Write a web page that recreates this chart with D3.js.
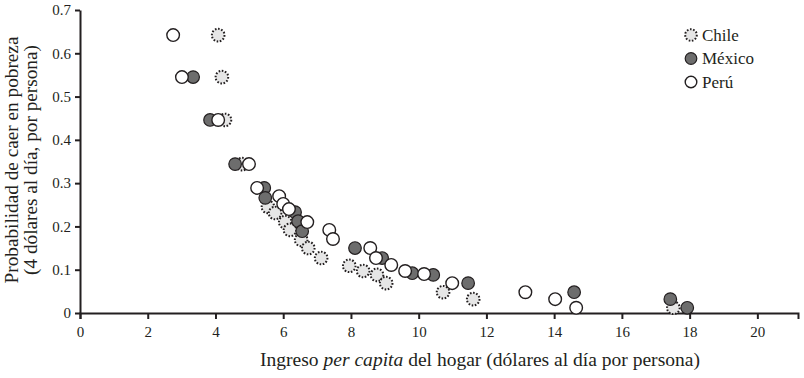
<!DOCTYPE html>
<html lang="es">
<head>
<meta charset="utf-8">
<script src="https://cdn.jsdelivr.net/npm/d3@7"></script>
<style>
  body { margin: 0; background: #fff; }
  svg text { fill: #231f20; }
  .axis path, .axis line { stroke: #231f20; stroke-width: 2; }
</style>
</head>
<body>
<div id="chart"></div>
<script>
// Data: [ingreso per capita, probabilidad]
const chile = [
  [4.08, 0.642], [4.19, 0.545], [4.28, 0.446], [4.79, 0.344], [5.55, 0.245],
  [5.76, 0.231], [6.06, 0.210], [6.20, 0.192], [6.53, 0.169], [6.74, 0.150],
  [7.12, 0.127], [7.95, 0.109], [8.36, 0.097], [8.77, 0.088], [9.04, 0.069],
  [10.72, 0.048], [11.61, 0.032], [17.52, 0.012]
];
const mexico = [
  [3.34, 0.545], [3.84, 0.446], [4.58, 0.344], [5.44, 0.289], [5.47, 0.266],
  [6.35, 0.233], [6.44, 0.212], [6.56, 0.189], [8.12, 0.150], [8.92, 0.127],
  [9.81, 0.092], [10.43, 0.088], [11.46, 0.069], [14.59, 0.048], [17.43, 0.032],
  [17.93, 0.012]
];
const peru = [
  [2.75, 0.642], [3.01, 0.545], [4.08, 0.446], [4.99, 0.344], [5.23, 0.289],
  [5.88, 0.270], [6.00, 0.252], [6.17, 0.240], [6.71, 0.210], [7.36, 0.192],
  [7.47, 0.171], [8.57, 0.150], [8.74, 0.127], [9.19, 0.111], [9.60, 0.097],
  [10.16, 0.090], [10.99, 0.069], [13.15, 0.048], [14.03, 0.032], [14.65, 0.012]
];
const seriesNames = ["Chile", "México", "Perú"];
const xTicks = [0, 2, 4, 6, 8, 10, 12, 14, 16, 18, 20];
const yTicks = [0, 0.1, 0.2, 0.3, 0.4, 0.5, 0.6, 0.7];

const width = 804;
const height = 378;
const margin = { top: 10, right: 6, bottom: 65, left: 80 };
const innerWidth = width - margin.left - margin.right;
const innerHeight = height - margin.top - margin.bottom;
const serif = "'Liberation Serif', 'Times New Roman', Tinos, 'DejaVu Serif', serif";

// Marker styles per country
const styles = {
  "Chile":  { fill: "#e6e6e6", stroke: "#231f20", dash: "1.6,1.6", sw: 2 },
  "México": { fill: "#6d6d6d", stroke: "#231f20", dash: null, sw: 1.2 },
  "Perú":   { fill: "#ffffff", stroke: "#231f20", dash: null, sw: 1.4 }
};

// Scale a text's font so that its length matches the one in the picture
const fitText = (sel, target, base) => {
  const len = sel.node().getComputedTextLength();
  if (len > 0) sel.style("font-size", `${(base * target / len).toFixed(2)}px`);
};

const svg = d3.select("#chart")
  .append("svg")
    .attr("width", width)
    .attr("height", height)
    .style("font-family", serif);

const innerChart = svg
  .append("g")
    .attr("transform", `translate(${margin.left}, ${margin.top})`);

// Scales
const xScale = d3.scaleLinear()
  .domain([0, 21.2])
  .range([0, innerWidth]);

const yScale = d3.scaleLinear()
  .domain([0, 0.7])
  .range([innerHeight, 0]);

// Axes
innerChart
  .append("g")
    .attr("class", "axis axis-x")
    .attr("transform", `translate(0, ${innerHeight})`)
    .call(d3.axisBottom(xScale).tickValues(xTicks).tickSize(6).tickSizeOuter(6).tickPadding(6))
    .call(g => g.attr("font-family", null).attr("font-size", null))
    .call(g => g.selectAll("text").attr("dy", "0.8em").style("font-family", serif).style("font-size", "15px"));

innerChart
  .append("g")
    .attr("class", "axis axis-y")
    .call(d3.axisLeft(yScale).tickValues(yTicks).tickSize(5).tickSizeOuter(0).tickPadding(4)
      .tickFormat(d => d === 0 ? "0" : d3.format(".1f")(d)))
    .call(g => g.attr("font-family", null).attr("font-size", null))
    .call(g => g.selectAll("text").style("font-family", serif).style("font-size", "15px"));

// Axis labels
const xLabel = svg
  .append("text")
    .attr("x", 480)
    .attr("y", 366)
    .attr("text-anchor", "middle")
    .style("font-family", serif)
    .style("font-size", "16px");
xLabel.append("tspan").text("Ingreso ");
xLabel.append("tspan").style("font-style", "italic").text("per capita");
xLabel.append("tspan").text(" del hogar (dólares al día por persona)");
fitText(xLabel, 440, 16);

const yLabel1 = svg
  .append("text")
    .attr("transform", "translate(18, 160) rotate(-90)")
    .attr("text-anchor", "middle")
    .style("font-family", serif)
    .style("font-size", "16px")
    .text("Probabilidad de caer en pobreza");
fitText(yLabel1, 247, 16);

const yLabel2 = svg
  .append("text")
    .attr("transform", "translate(37, 160) rotate(-90)")
    .attr("text-anchor", "middle")
    .style("font-family", serif)
    .style("font-size", yLabel1.style("font-size"))
    .text("(4 dólares al día, por persona)");

// Points
const drawSeries = (data, name) => {
  const s = styles[name];
  innerChart
    .append("g")
    .selectAll("circle")
    .data(data)
    .join("circle")
      .attr("cx", d => xScale(d[0]))
      .attr("cy", d => yScale(d[1]))
      .attr("r", 6.3)
      .attr("fill", s.fill)
      .attr("stroke", s.stroke)
      .attr("stroke-width", s.sw)
      .attr("stroke-dasharray", s.dash);
};
drawSeries(chile, "Chile");
drawSeries(mexico, "México");
drawSeries(peru, "Perú");

// Legend
const legend = svg
  .append("g")
    .attr("transform", "translate(691, 35)");
seriesNames.forEach((name, i) => {
  const s = styles[name];
  const row = legend.append("g").attr("transform", `translate(0, ${i * 23.5})`);
  row.append("circle")
    .attr("r", 5.8)
    .attr("fill", s.fill)
    .attr("stroke", s.stroke)
    .attr("stroke-width", s.sw)
    .attr("stroke-dasharray", s.dash);
  row.append("text")
    .attr("x", 11)
    .attr("dy", "0.35em")
    .style("font-family", serif)
    .style("font-size", "17px")
    .text(name);
});
</script>
</body>
</html>
